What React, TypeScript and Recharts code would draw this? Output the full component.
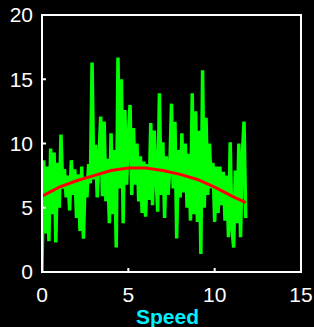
import { LineChart, Line, XAxis, YAxis, ReferenceArea } from 'recharts';

// green trace, sampled every 0.1 speed units
const STEP = 0.1;
const rawValues = [
  0, 8.7, 3.0, 8.2, 2.4, 9.6, 4.5, 9.3, 2.3, 8.5,
  5.0, 10.7, 6.5, 8.0, 5.8, 7.5, 4.8, 8.7, 6.0, 8.0,
  4.2, 7.6, 3.2, 8.2, 2.6, 7.4, 5.8, 8.4, 6.9, 16.3,
  7.2, 9.9, 5.8, 9.0, 12.1, 5.9, 11.7, 5.5, 8.8, 3.8,
  10.8, 4.5, 9.5, 1.9, 16.7, 6.5, 15.0, 3.8, 12.6, 6.8,
  10.5, 13.0, 6.0, 11.2, 6.8, 10.0, 5.5, 9.0, 4.6, 8.6,
  4.3, 8.4, 5.6, 11.6, 5.2, 11.0, 7.5, 4.7, 13.9, 6.0,
  10.1, 4.2, 9.0, 6.0, 8.0, 13.1, 6.5, 11.7, 2.6, 9.5,
  5.8, 10.8, 6.2, 10.0, 5.0, 9.2, 4.0, 13.9, 4.5, 12.5,
  3.9, 11.0, 1.4, 15.7, 5.0, 12.0, 6.0, 10.0, 6.5, 8.5,
  3.9, 8.2, 4.6, 8.2, 5.2, 7.8, 4.0, 7.5, 2.7, 10.1,
  3.5, 1.9, 7.9, 3.8, 10.0, 2.7, 9.0, 11.7, 4.2,
];

// red fit curve
const fitSpeed = [0, 1, 2, 3, 4, 5, 6, 7, 8, 9, 10, 11, 11.8];
const fitValues = [5.9, 6.6, 7.1, 7.5, 7.9, 8.1, 8.1, 7.9, 7.6, 7.2, 6.6, 5.9, 5.4];

const xTicks = [0, 5, 10, 15];
const yTicks = [0, 5, 10, 15, 20];

const rawData = rawValues.map((v, i) => ({ x: +(i * STEP).toFixed(2), raw: v }));
const fitData = fitSpeed.map((x, i) => ({ x, fit: fitValues[i] }));

const tickStyle = { fill: '#ffffff', fontSize: 21 };

export default function App() {
  return (
    <div
      style={{
        position: 'fixed',
        top: 0,
        left: 0,
        width: 314,
        height: 327,
        background: '#000',
        fontFamily: '"Liberation Sans", Arial, sans-serif',
      }}
    >
      <LineChart width={314} height={327} margin={{ top: 15, right: 13, left: 12, bottom: 25 }}>
        <XAxis
          type="number"
          dataKey="x"
          domain={[0, 15]}
          ticks={xTicks}
          allowDataOverflow
          height={30}
          stroke="#fff"
          strokeWidth={2}
          tickSize={-4}
          tickMargin={19}
          tick={tickStyle}
          label={{
            value: 'Speed',
            position: 'insideBottom',
            offset: -22,
            fill: '#00f0ff',
            fontSize: 21,
            fontWeight: 'bold',
            dx: -4,
          }}
        />
        <YAxis
          type="number"
          domain={[0, 20]}
          ticks={yTicks}
          width={30}
          stroke="#fff"
          strokeWidth={2}
          tickSize={-4}
          tickMargin={13}
          tick={tickStyle}
        />
        {/* box around the plot */}
        <ReferenceArea x1={0} x2={15} y1={0} y2={20} fill="none" stroke="#fff" strokeWidth={2} fillOpacity={0} />
        <Line
          data={rawData}
          dataKey="raw"
          type="linear"
          stroke="#00ff00"
          strokeWidth={3.5}
          dot={false}
          isAnimationActive={false}
        />
        <Line
          data={fitData}
          dataKey="fit"
          type="linear"
          stroke="#ff0000"
          strokeWidth={3}
          dot={false}
          isAnimationActive={false}
        />
      </LineChart>
    </div>
  );
}
